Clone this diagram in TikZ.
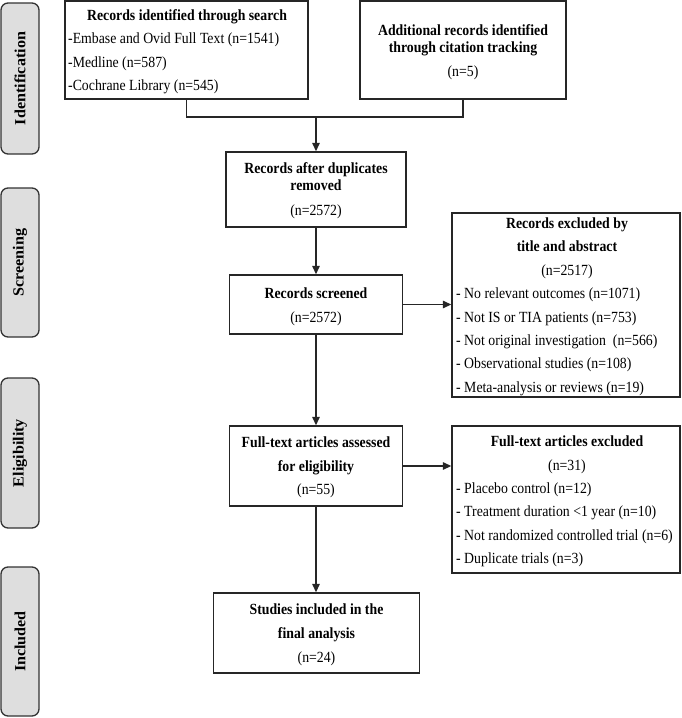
\documentclass[tikz,border=0pt]{standalone}
\usepackage{fontspec}
\setmainfont[FakeStretch=0.89]{Liberation Serif}
\newfontfamily\tabfont[FakeStretch=1.04]{Liberation Serif}
\usetikzlibrary{arrows.meta}
\begin{document}
\begin{tikzpicture}[x=1pt,y=-1pt,
  box/.style={draw=black!85, line width=1.4pt, fill=white, inner sep=0pt},
  tab/.style={draw=black!80, line width=1.3pt, fill=black!13, rounded corners=7pt, inner sep=0pt},
  hd/.style={font=\fontsize{15.5}{18}\selectfont\bfseries, anchor=base, inner sep=0pt},
  tx/.style={font=\fontsize{15.5}{18}\selectfont, anchor=base, inner sep=0pt},
  li/.style={font=\fontsize{15.5}{18}\selectfont, anchor=base west, inner sep=0pt},
  tabtxt/.style={font=\tabfont\fontsize{15.5}{18}\selectfont\bfseries, rotate=90, inner sep=0pt},
  conn/.style={line width=1.4pt, draw=black!85},
  arr/.style={conn, -{Triangle[length=8.5pt,width=7.5pt]}}
]
\useasboundingbox (0,0) rectangle (682,718);

% phase tabs
\node[tab, minimum width=38pt, minimum height=151pt] (tI) at (20,78.5) {};
\node[tabtxt] (tIt) at (tI.center) {Identification};
\node[tab, minimum width=38pt, minimum height=149pt] (tS) at (20,262.5) {};
\node[tabtxt] (tSt) at (tS.center) {Screening};
\node[tab, minimum width=38pt, minimum height=150pt] (tE) at (20,453) {};
\node[tabtxt] (tEt) at (tE.center) {Eligibility};
\node[tab, minimum width=38pt, minimum height=149pt] (tN) at (20,641.5) {};
\node[tabtxt] (tNt) at (tN.center) {Included};

% boxes
\node[box, minimum width=243pt, minimum height=98pt] (A) at (186.5,50) {};
\node[box, minimum width=206pt, minimum height=98pt] (B) at (463,50) {};
\node[box, minimum width=180pt, minimum height=75pt] (C) at (316,189.5) {};
\node[box, minimum width=173pt, minimum height=59pt] (D) at (316,304.5) {};
\node[box, minimum width=228pt, minimum height=184pt] (E) at (566,305) {};
\node[box, minimum width=173pt, minimum height=80pt] (F) at (316,466) {};
\node[box, minimum width=228pt, minimum height=147pt] (G) at (566,499.5) {};
\node[box, minimum width=206pt, minimum height=80pt] (H) at (316.5,633) {};

% texts A
\node[hd] (a1) at (187,20) {Records identified through search};
\node[li] (a2) at (68,43) {-Embase and Ovid Full Text (n=1541)};
\node[li] (a3) at (68,67) {-Medline (n=587)};
\node[li] (a4) at (68,90) {-Cochrane Library (n=545)};
% texts B
\node[hd] (b1) at (463,35) {Additional records identified};
\node[hd] (b2) at (463,52) {through citation tracking};
\node[tx] (b3) at (463,76) {(n=5)};
% texts C
\node[hd] (c1) at (316,173) {Records after duplicates};
\node[hd] (c2) at (316,190) {removed};
\node[tx] (c3) at (316,215) {(n=2572)};
% texts D
\node[hd] (d1) at (316,298) {Records screened};
\node[tx] (d2) at (316,322) {(n=2572)};
% texts E
\node[hd] (e1) at (567,228) {Records excluded by};
\node[hd] (e2) at (567,251) {title and abstract};
\node[tx] (e3) at (567,275) {(n=2517)};
\node[li] (e4) at (456,298) {- No relevant outcomes (n=1071)};
\node[li] (e5) at (456,322) {- Not IS or TIA patients (n=753)};
\node[li] (e6) at (456,345) {- Not original investigation\ \ (n=566)};
\node[li] (e7) at (456,368) {- Observational studies (n=108)};
\node[li] (e8) at (456,392) {- Meta-analysis or reviews (n=19)};
% texts F
\node[hd] (f1) at (316,447) {Full-text articles assessed};
\node[hd] (f2) at (316,471) {for eligibility};
\node[tx] (f3) at (316,494) {(n=55)};
% texts G
\node[hd] (g1) at (567,446) {Full-text articles excluded};
\node[tx] (g2) at (567,470) {(n=31)};
\node[li] (g3) at (456,493) {- Placebo control (n=12)};
\node[li] (g4) at (456,516) {- Treatment duration <1 year (n=10)};
\node[li] (g5) at (456,540) {- Not randomized controlled trial (n=6)};
\node[li] (g6) at (456,563) {- Duplicate trials (n=3)};
% texts H
\node[hd] (h1) at (316.5,614) {Studies included in the};
\node[hd] (h2) at (316.5,638) {final analysis};
\node[tx] (h3) at (316.5,662) {(n=24)};

% connectors
\coordinate (j) at (316,117);
\draw[conn] (A.south) -- (A.south |- j) -- (B.south |- j) -- (B.south);
\draw[arr] (j) -- (C.north);
\draw[arr] (C.south) -- (D.north);
\draw[arr] (D.east) -- (D.east -| E.west);
\draw[arr] (D.south) -- (F.north);
\draw[arr] (F.east) -- (F.east -| G.west);
\draw[arr] (F.south) -- (F.south |- H.north);
\end{tikzpicture}
\end{document}
